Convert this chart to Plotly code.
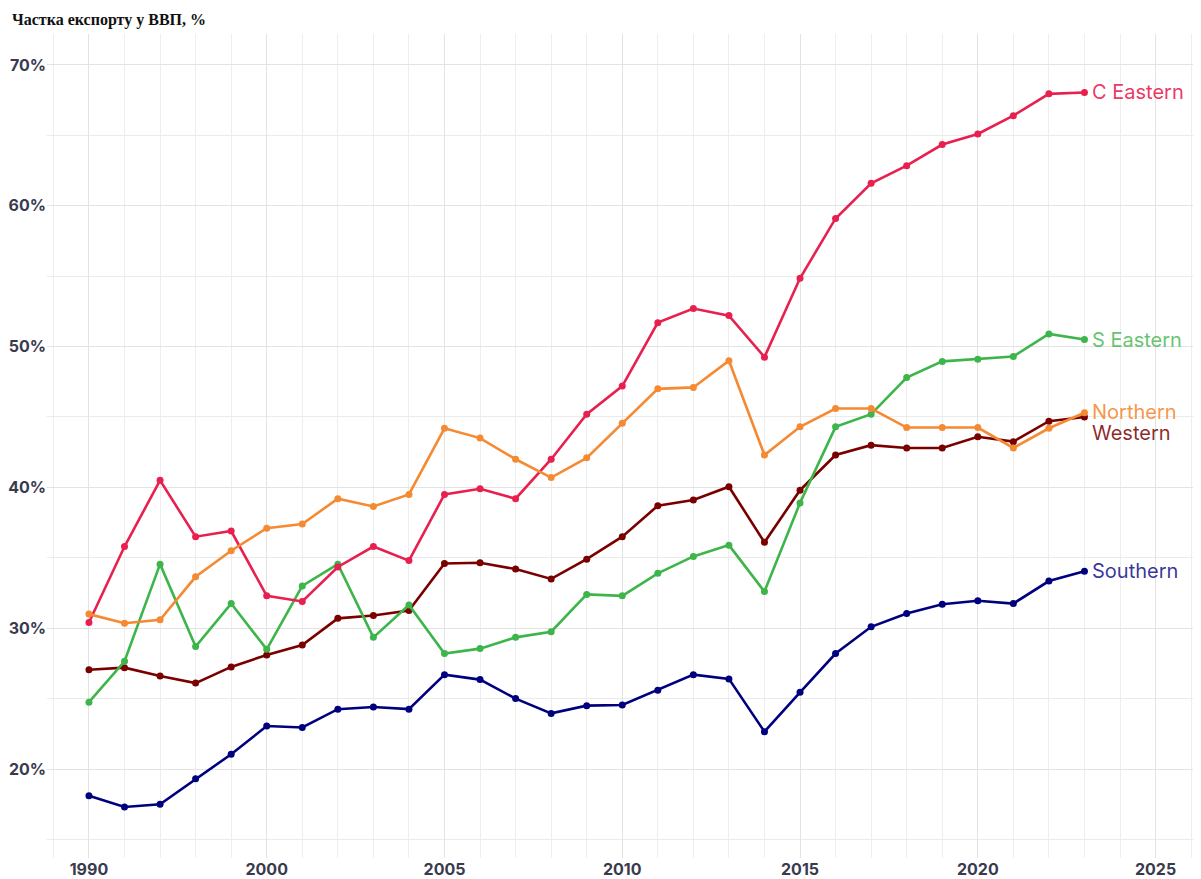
import plotly.graph_objects as go

# export share of GDP, %
years = list(range(1995, 2024))

c_eastern = [30.4, 35.8, 40.5, 36.5, 36.9, 32.3, 31.9, 34.35, 35.8, 34.8,
             39.5, 39.9, 39.2, 42.0, 45.2, 47.2, 51.7, 52.7, 52.2, 49.25,
             54.85, 59.1, 61.6, 62.85, 64.35, 65.1, 66.4, 67.95, 68.05]
s_eastern = [24.75, 27.65, 34.55, 28.7, 31.75, 28.5, 33.0, 34.55, 29.35, 31.65,
             28.2, 28.55, 29.35, 29.75, 32.4, 32.3, 33.9, 35.1, 35.9, 32.6,
             38.9, 44.3, 45.2, 47.8, 48.95, 49.1, 49.3, 50.9, 50.5]
northern = [31.0, 30.35, 30.6, 33.65, 35.5, 37.1, 37.4, 39.2, 38.65, 39.5,
            44.2, 43.5, 42.0, 40.7, 42.1, 44.55, 47.0, 47.1, 49.0, 42.3,
            44.3, 45.6, 45.6, 44.25, 44.25, 44.25, 42.8, 44.2, 45.3]
western = [27.05, 27.2, 26.6, 26.1, 27.25, 28.1, 28.8, 30.7, 30.9, 31.25,
           34.6, 34.65, 34.2, 33.5, 34.9, 36.5, 38.7, 39.1, 40.05, 36.1,
           39.8, 42.3, 43.0, 42.8, 42.8, 43.6, 43.25, 44.7, 45.0]
southern = [18.1, 17.3, 17.5, 19.3, 21.05, 23.05, 22.95, 24.25, 24.4, 24.25,
            26.7, 26.35, 25.0, 23.95, 24.5, 24.55, 25.6, 26.7, 26.4, 22.65,
            25.45, 28.2, 30.1, 31.05, 31.7, 31.95, 31.75, 33.35, 34.05]

x_tickvals = [1995, 2000, 2005, 2010, 2015, 2020, 2025]
x_ticktext = ["1990", "2000", "2005", "2010", "2015", "2020", "2025"]
y_tickvals = [20, 30, 40, 50, 60, 70]
y_ticktext = ["20%", "30%", "40%", "50%", "60%", "70%"]

series = [
    ("Western", western, "#7A0000", "rgba(122,0,0,0.85)", 16),
    ("Southern", southern, "#00007F", "rgba(0,0,127,0.8)", 0),
    ("S Eastern", s_eastern, "#3DB54A", "rgba(61,181,74,0.8)", 0),
    ("C Eastern", c_eastern, "#E8204F", "rgba(232,32,79,0.9)", 0),
    ("Northern", northern, "#F58A33", "rgba(245,138,51,0.9)", -1),
]

fig = go.Figure()

for name, vals, color, text_color, shift in series:
    fig.add_trace(go.Scatter(
        x=years, y=vals, name=name, mode="lines+markers",
        line=dict(color=color, width=2.6),
        marker=dict(color=color, size=7),
        showlegend=False,
    ))
    fig.add_annotation(
        x=years[-1], y=vals[-1], text=name, showarrow=False,
        xanchor="left", yanchor="middle", xshift=6, yshift=-shift,
        font=dict(family="Inter", size=20, color=text_color),
    )

fig.update_xaxes(
    range=[1993.82, 2026.25], automargin=False,
    tickvals=x_tickvals, ticktext=x_ticktext,
    showgrid=True, gridcolor="#E3E3E3", gridwidth=1,
    minor=dict(dtick=1, tick0=1995, showgrid=True, gridcolor="#EEEEEE", gridwidth=1),
    zeroline=False, showline=False, ticks="",
    tickfont=dict(family="Inter", size=16, color="#3A3A4E", weight="bold"),
)
fig.update_yaxes(
    range=[13.68, 72.2], automargin=False,
    tickvals=y_tickvals, ticktext=y_ticktext,
    showgrid=True, gridcolor="#E3E3E3", gridwidth=1,
    minor=dict(dtick=5, tick0=15, showgrid=True, gridcolor="#EBEBEB", gridwidth=1),
    zeroline=False, showline=False, ticks="",
    tickfont=dict(family="Inter", size=16, color="#3A3A4E", weight="bold"),
)

# page body has an 8px margin, so the figure is drawn 8px smaller
fig.update_layout(
    width=1193, height=871,
    margin=dict(l=39, r=1, t=26, b=21, autoexpand=False),
    plot_bgcolor="white", paper_bgcolor="white",
    title=dict(
        text="<b>Частка експорту у ВВП, %</b>",
        x=4 / 1193, xanchor="left", xref="container",
        y=1 - 11 / 871, yanchor="middle", yref="container",
        automargin=False,
        font=dict(family="Liberation Serif", size=16, color="#111111"),
    ),
)

fig.write_html("out.html")
